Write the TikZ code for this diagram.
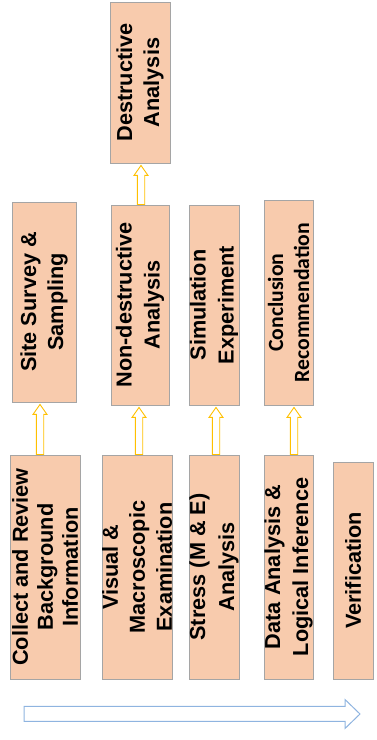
\documentclass[tikz,border=0pt]{standalone}
\usepackage{fontspec}
\setmainfont{Liberation Sans}
\newfontfamily\carl{Carlito}
\usetikzlibrary{calc}
\definecolor{boxfill}{HTML}{F8CBAD}
\definecolor{boxline}{HTML}{A5A5A5}
\definecolor{upc}{HTML}{FFC000}
\definecolor{flowc}{HTML}{8FB4E0}
\tikzset{
  stage/.style={draw=boxline, fill=boxfill, line width=0.9pt, rotate=90, inner sep=0pt, align=center},
  ls/.style={font=\bfseries\fontsize{21.7}{#1}\selectfont},
  lscarl/.style={font=\carl\bfseries\fontsize{21.7}{#1}\selectfont},
  uparrow/.style={draw=upc, fill=white, line width=0.9pt, line join=miter},
  flowarrow/.style={draw=flowc, fill=white, line width=1pt, line join=miter}
}
\newcommand\myuparr[3]{%
  \draw[uparrow] let \p1=(#2.east), \p2=(#3.west) in
    (#1pt-3.7pt,\y1) -- (#1pt-3.7pt,\y2-12pt) -- (#1pt-7pt,\y2-12pt) -- (#1pt,\y2-2pt)
    -- (#1pt+7pt,\y2-12pt) -- (#1pt+3.7pt,\y2-12pt) -- (#1pt+3.7pt,\y1) -- cycle;}
\begin{document}
\begin{tikzpicture}[x=1pt,y=1pt]
\useasboundingbox (0,0) rectangle (376,740);
% bottom row
\node[stage, ls=25, minimum width=224, minimum height=70] (b1) at (45,173) {Collect and Review\\Background\\Information};
\node[stage, ls=27, minimum width=224, minimum height=64] (b2) at (137,173) {Visual \&\\Macroscopic\\Examination};
\node[stage, ls=29, minimum width=224, minimum height=50] (b3) at (214,173) {Stress (M \& E)\\Analysis};
\node[stage, ls=28, minimum width=224, minimum height=49] (b4) at (288.5,173) {Data Analysis \&\\Logical Inference};
\node[stage, ls=26, minimum width=217, minimum height=40] (b5) at (353,169.5) {Verification};
% middle row
\node[stage, ls=27, minimum width=200, minimum height=64] (m1) at (44,438) {Site Survey \&\\Sampling};
\node[stage, ls=28, minimum width=200, minimum height=58] (m2) at (140,435) {Non-destructive\\Analysis};
\node[stage, ls=28, minimum width=200, minimum height=50] (m3) at (214,435) {Simulation\\Experiment};
\node[stage, lscarl=26, minimum width=205, minimum height=49] (m4) at (288.5,437.5) {Conclusion\\Recommendation};
% top
\node[stage, ls=27, minimum width=161, minimum height=60] (t1) at (140,657.5) {Destructive\\Analysis};
% arrows
\myuparr{40}{b1}{m1}
\myuparr{139}{b2}{m2}
\myuparr{216}{b3}{m3}
\myuparr{294}{b4}{m4}
\myuparr{141}{m2}{t1}
% flow arrow
\draw[flowarrow] (24,18.5) -- (345,18.5) -- (345,11.5) -- (360,26) -- (345,40.5) -- (345,33.5) -- (24,33.5) -- cycle;
\end{tikzpicture}
\end{document}
